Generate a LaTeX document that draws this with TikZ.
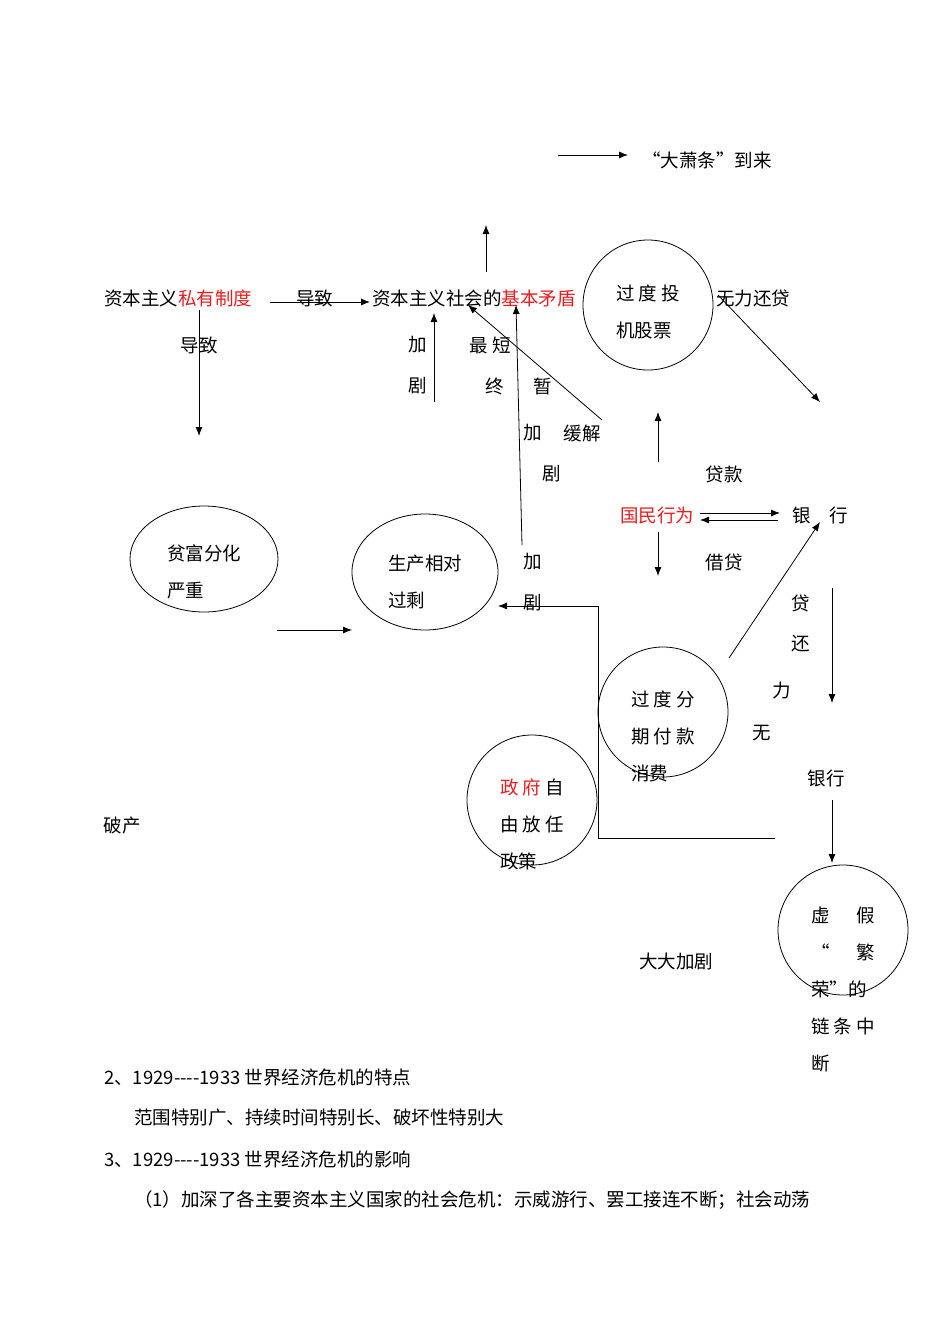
\documentclass[tikz,border=0pt]{standalone}
\usepackage{fontspec}
\setmainfont{Noto Sans CJK SC}
\usetikzlibrary{arrows.meta,shapes.geometric}
\begin{document}
\begin{tikzpicture}[x=1pt,y=-1pt,
  t/.style={inner sep=0pt,font=\fontsize{18.5}{37}\selectfont,align=left},
  ar/.style={-{Latex[length=9pt,width=7pt]},line width=0.8pt},
  ln/.style={line width=0.8pt},
  circ/.style={draw,line width=0.8pt}]
\useasboundingbox[fill=white] (0,0) rectangle (950,1342);
\definecolor{rd}{RGB}{230,30,30}
% top
\coordinate (a1s) at (558,155); \coordinate (a1e) at (628,155);
\draw[ar] (a1s)--(a1e);
\node[t,anchor=west] (dxt) at (642,160) {“大萧条”到来};
% row 1
\node[t,anchor=west] (r1) at (104,298) {资本主义\textcolor{rd}{私有制度}};
\node[t,anchor=west] (dz1) at (296,298) {导致};
\node[t,anchor=west] (r2) at (372,298) {资本主义社会的\textcolor{rd}{基本矛盾}};
\coordinate (p1) at (270,302); \coordinate (p2) at (370,302); \draw[ar] (p1)--(p2);
\coordinate (u1) at (486,272); \coordinate (u2) at (486,225); \draw[ar] (u1)--(u2);
\node[circ,circle,minimum size=130pt] (c1) at (648,305) {};
\node[t] (c1t) at (648,312) {过 度 投\\机股票};
\node[t,anchor=west] (wlhd) at (716,298) {无力还贷};
\coordinate (d1) at (718,295); \coordinate (d2) at (820,402); \draw[ar] (d1)--(d2);
% left column
\node[t] (dz2) at (199,345) {导致};
\coordinate (l1) at (199,310); \coordinate (l2) at (199,436); \draw[ar] (l1)--(l2);
\node[t] (j1) at (418,345) {加}; \node[t] (j2) at (418,386) {剧};
\coordinate (m1) at (434,402); \coordinate (m2) at (434,313); \draw[ar] (m1)--(m2);
\node[t] (zd) at (490,345) {最 短};
\node[t] (zh) at (495,386) {终}; \node[t] (zan) at (543,386) {暂};
\coordinate (n1) at (522,545); \coordinate (n2) at (516,305); \draw[ar] (n1)--(n2);
\coordinate (o1) at (602,420); \coordinate (o2) at (468,305); \draw[ar] (o1)--(o2);
\node[t] (hj) at (582,433) {缓解};
\node[t] (j3) at (533,433) {加}; \node[t] (j4) at (552,474) {剧};
\coordinate (q1) at (658,462); \coordinate (q2) at (658,412); \draw[ar] (q1)--(q2);
\node[t] (dk) at (724,474) {贷款};
\node[t] (gm) at (657,515) {\textcolor{rd}{国民行为}};
\node[t] (yh1) at (820,515) {银\quad 行};
\coordinate (b1) at (700,513); \coordinate (b2) at (780,513); \draw[ar] (b1)--(b2);
\coordinate (b3) at (778,520); \coordinate (b4) at (700,520); \draw[ar] (b3)--(b4);
\coordinate (e1) at (658,532); \coordinate (e2) at (658,576); \draw[ar] (e1)--(e2);
\node[t] (jd) at (724,562) {借贷};
% ellipses
\node[circ,ellipse,minimum width=148pt,minimum height=106pt] (c2) at (204,559) {};
\node[t] (c2t) at (204,572) {贫富分化\\严重};
\node[circ,ellipse,minimum width=146pt,minimum height=116pt] (c3) at (425,572) {};
\node[t] (c3t) at (425,582) {生产相对\\过剩};
\coordinate (f1) at (277,630); \coordinate (f2) at (352,630); \draw[ar] (f1)--(f2);
\node[t] (j5) at (533,562) {加}; \node[t] (j6) at (533,603) {剧};
\coordinate (g1) at (775,838); \coordinate (g2) at (598,838); \coordinate (g3) at (598,606); \coordinate (g4) at (498,606);
\draw[ln] (g1)--(g2); \draw[ar] (g2)--(g3)--(g4);
\node[circ,circle,minimum size=130pt] (c4) at (663,712) {};
\node[t] (c4t) at (663,736) {过 度 分\\期 付 款\\消费};
\coordinate (h1) at (729,658); \coordinate (h2) at (820,522); \draw[ar] (h1)--(h2);
\node[t] (dai) at (801,603) {贷}; \node[t] (hai) at (801,644) {还};
\node[t] (li) at (782,691) {力}; \node[t] (wu) at (762,733) {无};
\coordinate (k1) at (832,588); \coordinate (k2) at (832,703); \draw[ar] (k1)--(k2);
\node[t] (yh2) at (826,778) {银行};
\coordinate (k3) at (832,800); \coordinate (k4) at (832,863); \draw[ar] (k3)--(k4);
\node[circ,circle,minimum size=130pt] (c5) at (532,800) {};
\node[t] (c5t) at (532,824) {\textcolor{rd}{政 府} 自\\由 放 任\\政策};
\node[t] (pc) at (122,826) {破产};
\node[circ,circle,minimum size=130pt] (c6) at (843,930) {};
\node[t] (c6t) at (843,990) {虚\quad\ \ 假\\“\quad\ \ 繁\\荣”的\\链 条 中\\断};
\node[t] (ddjj) at (676,961) {大大加剧};
% bottom text
\node[t,anchor=west] (tx1) at (104,1077) {2、1929{-}{-}{-}{-}1933 世界经济危机的特点};
\node[t,anchor=west] (tx2) at (134,1118) {范围特别广、持续时间特别长、破坏性特别大};
\node[t,anchor=west] (tx3) at (104,1159) {3、1929{-}{-}{-}{-}1933 世界经济危机的影响};
\node[t,anchor=west] (tx4) at (134,1200) {（1）加深了各主要资本主义国家的社会危机：示威游行、罢工接连不断；社会动荡};
\end{tikzpicture}
\end{document}
